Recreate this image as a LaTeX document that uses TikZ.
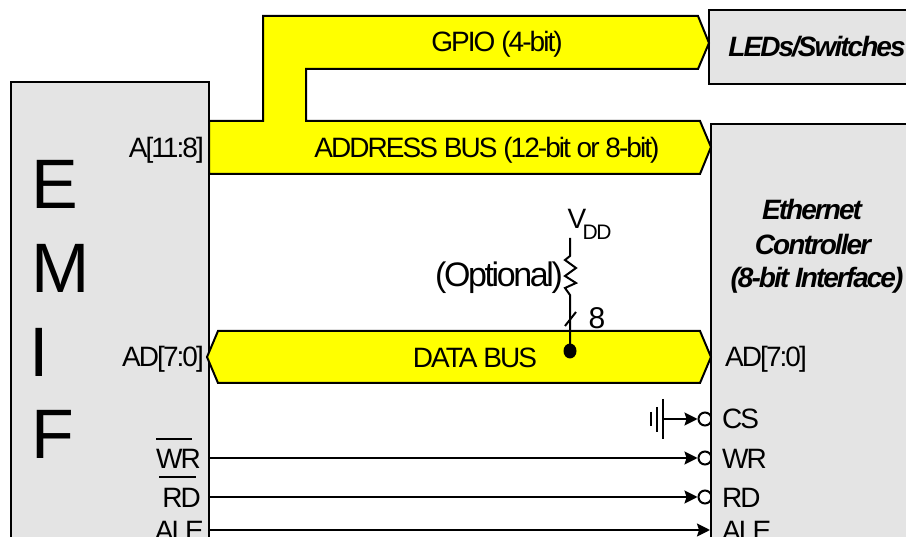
\documentclass[tikz,border=0pt]{standalone}
\usepackage{fontspec}
\setmainfont[LetterSpace=-7]{Liberation Sans}
\usetikzlibrary{arrows.meta,shapes.geometric}
\definecolor{boxgray}{RGB}{228,228,228}
\definecolor{busyellow}{RGB}{255,255,0}
\newcommand{\fsz}[1]{\fontsize{#1}{#1}\selectfont}
\tikzset{
  ln/.style={line width=2pt,black},
  block/.style={ln,fill=boxgray},
  bus/.style={ln,fill=busyellow,line join=miter},
  sig/.style={ln,-{Stealth[length=13pt,width=13pt,inset=2pt]}},
  bubble/.style={circle,draw,line width=2pt,minimum size=13pt,inner sep=0pt,fill=white},
  lab/.style={inner sep=0pt,font=\fsz{28}},
  big/.style={inner sep=0pt,font=\fsz{70}},
  title/.style={inner sep=0pt,font=\fsz{28}\bfseries\itshape},
}
\begin{document}
\begin{tikzpicture}[x=1pt,y=-1pt]
\useasboundingbox (0,0) rectangle (906,537);
\clip (0,0) rectangle (906,537);
% bubbles sit under the block edge
\node[bubble] (bcs) at (705,419) {};
\node[bubble] (bwr) at (705,458) {};
\node[bubble] (brd) at (705,497) {};
% blocks
\draw[block] (11,560) -- (11,82) -- (209,82) -- (209,560);
\draw[block] (920,10) -- (709,10) -- (709,84) -- (920,84);
\draw[block] (920,124) -- (711,124) -- (711,560) -- (920,560);
% buses
\draw[bus] (209,121) -- (263,121) -- (263,16) -- (698,16) -- (709,43) -- (698,69) -- (306,69) -- (306,121) -- (700,121) -- (711,147) -- (700,174) -- (209,174) -- cycle;
\draw[bus] (207,357) -- (218,331) -- (700,331) -- (711,357) -- (700,383) -- (218,383) -- cycle;
% EMIF
\node[big] (e) at (55,184) {E};
\node[big] (m) at (61,268) {M};
\node[big] (i) at (39,352) {I};
\node[big] (f) at (53,434) {F};
% bus labels
\node[lab] (gpio) at (497,44) {GPIO (4-bit)};
\node[lab] (addr) at (487,150) {ADDRESS BUS (12-bit or 8-bit)};
\node[lab] (data) at (475,358) {DATA BUS};
% block titles
\node[title] (leds) at (817,47) {LEDs/Switches};
\node[title] (eth1) at (812,209) {Ethernet};
\node[title] (eth2) at (813,244) {Controller};
\node[title] (eth3) at (817,280) {(8-bit Interface)};
% pin labels
\node[lab,anchor=east] (a118) at (204,150) {A[11:8]};
\node[lab,anchor=east] (ad70l) at (204,359) {AD[7:0]};
\node[lab,anchor=east] (wrl) at (201,459) {WR};
\node[lab,anchor=east] (rdl) at (201,498) {RD};
\node[lab,anchor=east] (alel) at (204,531) {ALE};
\node[lab,anchor=west] (ad70r) at (725,359) {AD[7:0]};
\node[lab,anchor=west] (csr) at (722,419) {CS};
\node[lab,anchor=west] (wrr) at (722,459) {WR};
\node[lab,anchor=west] (rdr) at (722,498) {RD};
\node[lab,anchor=west] (aler) at (722,531) {ALE};
\coordinate (wrbarl) at (156,439); \coordinate (wrbarr) at (192,439);
\coordinate (rdbarl) at (159,477); \coordinate (rdbarr) at (196,477);
\draw[ln] (wrbarl) -- (wrbarr);
\draw[ln] (rdbarl) -- (rdbarr);
% connectors
\coordinate (gnd) at (663,419);
\coordinate (swr) at (209,458);
\coordinate (srd) at (209,497);
\coordinate (sale) at (209,530);
\coordinate (eale) at (710,530);
\draw[sig] (gnd) -- (bcs.west);
\draw[sig] (swr) -- (bwr.west);
\draw[sig] (srd) -- (brd.west);
\draw[sig] (sale) -- (eale);
% ground
\draw[ln] (663,399) -- (663,439);
\draw[ln] (657,407) -- (657,432);
\draw[ln] (651,412) -- (651,426);
% pull-up
\node[lab] (vdd) at (577,219) {V};
\node[inner sep=0pt,font=\fsz{21}] (dd) at (597,232) {DD};
\node[inner sep=0pt,font=\fsz{34}] (opt) at (499,278) {(Optional)};
\node[inner sep=0pt,font=\fsz{30}] (eight) at (597,318) {8};
\node[ellipse,fill=black,minimum width=13pt,minimum height=15pt,inner sep=0pt] (dot) at (570,351) {};
\coordinate (vtop) at (570,238);
\draw[ln,line join=miter] (vtop) -- (570,256) -- (565,260) -- (576,268) -- (565,276) -- (576,283) -- (565,288) -- (570,295) -- (dot.center);
\draw[ln] (565,326) -- (576,312);
\end{tikzpicture}
\end{document}
